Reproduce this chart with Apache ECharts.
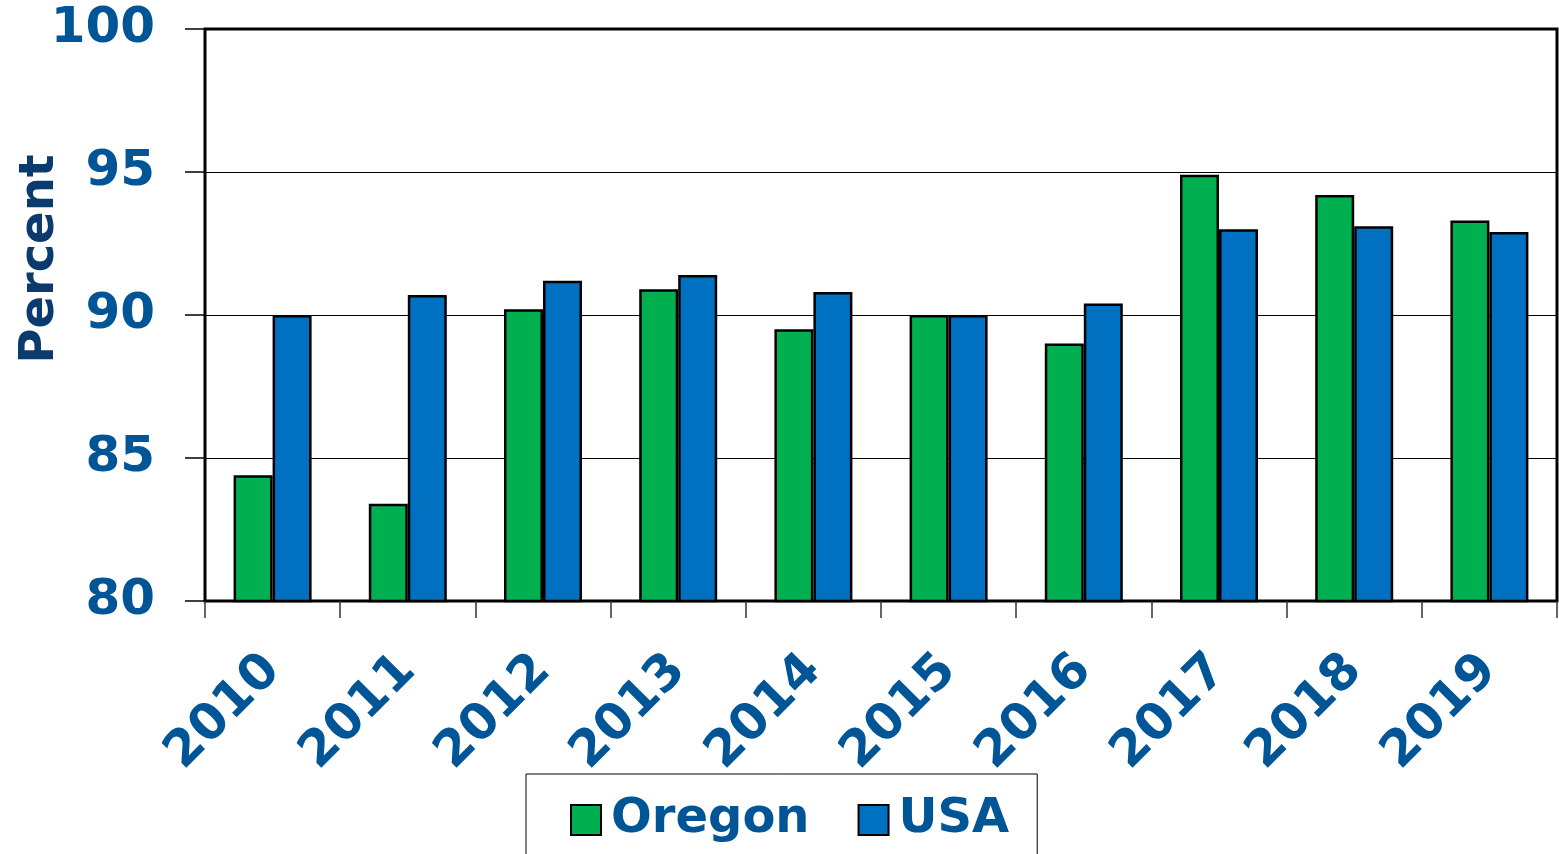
<!doctype html>
<html>
<head>
<meta charset="utf-8">
<script src="https://cdn.jsdelivr.net/npm/echarts@6/dist/echarts.min.js"></script>
<style>
    html, body { margin: 0; padding: 0; background: #fff; }
    #chart { width: 1559px; height: 854px; }
</style>
</head>
<body>
<div id="chart"></div>
<script>
var years = ['2010', '2011', '2012', '2013', '2014', '2015', '2016', '2017', '2018', '2019'];
var oregon = [84.4, 83.4, 90.2, 90.9, 89.5, 90.0, 89.0, 94.9, 94.2, 93.3];
var usa = [90.0, 90.7, 91.2, 91.4, 90.8, 90.0, 90.4, 93.0, 93.1, 92.9];
var yTicks = [80, 85, 90, 95, 100];

var labelBlue = '#005596';
var fontName = '"DejaVu Sans", Verdana, sans-serif';

var myChart = echarts.init(document.getElementById('chart'));

var option = {
    animation: false,
    grid: {
        left: 205, right: 2, top: 29, bottom: 253,
        show: true, borderColor: '#000', borderWidth: 3,
        containLabel: false,
        outerBoundsMode: 'none'
    },
    legend: {
        data: ['Oregon', 'USA'],
        left: 526, top: 774,
        padding: [22, 28, 40, 44],
        itemGap: 48,
        itemWidth: 30, itemHeight: 30,
        icon: 'rect',
        borderColor: '#000', borderWidth: 1,
        textStyle: { color: labelBlue, fontSize: 48, fontWeight: 'bold', fontFamily: fontName, padding: [0, 0, 0, 5] }
    },
    xAxis: {
        type: 'category',
        data: years,
        axisLine: { show: true, lineStyle: { color: '#000', width: 1 } },
        axisTick: { show: true, alignWithLabel: false, length: 17, lineStyle: { color: '#333', width: 1.5 } },
        axisLabel: {
            rotate: 45, margin: 62,
            color: labelBlue, fontSize: 50, fontWeight: 'bold', fontFamily: fontName
        }
    },
    yAxis: {
        type: 'value',
        min: 80, max: 100, interval: 5,
        name: 'Percent',
        nameLocation: 'middle',
        nameGap: 140,
        nameRotate: 90,
        nameMoveOverlap: false,
        nameTextStyle: { color: '#0B3A6E', fontSize: 48, fontWeight: 'bold', fontFamily: fontName, padding: [0, 0, 0, 112] },
        axisLine: { show: false },
        axisTick: { show: true, length: 20, lineStyle: { color: '#000', width: 1.5 } },
        splitLine: { show: true, lineStyle: { color: '#000', width: 1 } },
        axisLabel: {
            margin: 50,
            color: labelBlue, fontSize: 50, fontWeight: 'bold', fontFamily: fontName,
            formatter: function (v) { return yTicks.indexOf(v) >= 0 ? String(v) : ''; }
        }
    },
    series: [{
        name: 'Oregon',
        type: 'bar',
        data: oregon,
        barWidth: 39,
        barGap: '0%',
        itemStyle: { color: '#00B050', borderColor: '#000', borderWidth: 2.5 }
    }, {
        name: 'USA',
        type: 'bar',
        data: usa,
        barWidth: 39,
        barGap: '0%',
        itemStyle: { color: '#0070C0', borderColor: '#000', borderWidth: 2.5 }
    }]
};

myChart.setOption(option);
</script>
</body>
</html>
